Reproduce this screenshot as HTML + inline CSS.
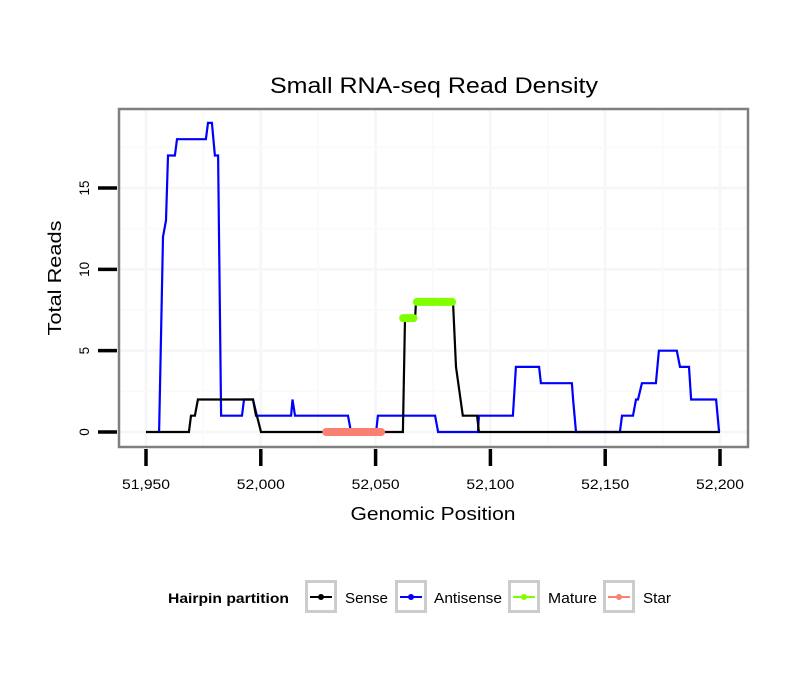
<!DOCTYPE html>
<html><head><meta charset="utf-8"><style>
body{margin:0;background:#fff;}
svg{display:block;font-family:"Liberation Sans",sans-serif;}
</style></head><body>
<svg id="chart" width="810" height="690">
<rect width="810" height="690" fill="#fff"/>
<text x="434" y="93" font-size="22" text-anchor="middle" textLength="328" lengthAdjust="spacingAndGlyphs">Small RNA-seq Read Density</text>
<g id="grid"></g>
<g id="series"></g>
<rect x="119" y="109" width="629" height="338" fill="none" stroke="#7f7f7f" stroke-width="2.5"/>
<g id="axes"></g>
<text x="433" y="520" font-size="18" text-anchor="middle" textLength="165" lengthAdjust="spacingAndGlyphs">Genomic Position</text>
<text transform="translate(61,278) rotate(-90)" font-size="18" text-anchor="middle" textLength="115" lengthAdjust="spacingAndGlyphs">Total Reads</text>
<g>
<text x="168" y="603" font-size="14" font-weight="bold" textLength="121" lengthAdjust="spacingAndGlyphs">Hairpin partition</text>
<g id="legend"></g>
</g>
</svg>
<script>
const xTicks=[51950,52000,52050,52100,52150,52200];
const xTickLabels=["51,950","52,000","52,050","52,100","52,150","52,200"];
const yTicks=[0,5,10,15];
const yTickLabels=["0","5","10","15"];
const senseX=[51950,51968.7,51969.6,51971.3,51972.6,51996.6,51997.9,51998.3,52000.1,52061.9,52062.8,52067.2,52067.6,52083.7,52085,52088,52094.2,52095,52200];
const senseY=[0,0,1,1,2,2,1,1,0,0,7,7,8,8,4,1,1,0,0];
const antiX=[51955.7,51957.4,51958.7,51959.6,51962.6,51963.5,51976.1,51977,51978.7,51980,51981.4,51982.7,51991.8,51992.7,51996.6,51998.3,52013.2,52013.8,52014.9,52038,52039.3,52050.2,52051,52075.9,52077.2,52094.6,52095,52109.8,52111.1,52121.2,52122,52135.5,52136,52137.3,52156.4,52157.3,52162.1,52163.4,52164.3,52166,52172.1,52173.4,52181.2,52182.6,52186.5,52187.4,52198.3,52199.6];
const antiY=[0,12,13,17,17,18,18,19,19,17,17,1,1,2,2,1,1,2,1,1,0,0,1,1,0,0,1,1,4,4,3,3,2,0,0,1,1,2,2,3,3,5,5,4,4,2,2,0];
const matureStart=[52062,52068];
const matureEnd=[52066.5,52083.3];
const matureY=[7,8];
const starStart=[52028.5];
const starEnd=[52052.4];
const starY=[0];
const legendLabels=["Sense","Antisense","Mature","Star"];
const legendColors=["#000000","#0000ff","#7fff00","#fa8072"];

const NS="http://www.w3.org/2000/svg";
const sx=v=>146+(v-51950)*(574/250);
const sy=v=>432-v*(244/15);
function mk(tag,attrs,parent){const e=document.createElementNS(NS,tag);for(const k in attrs)e.setAttribute(k,attrs[k]);parent.appendChild(e);return e;}
const grid=document.getElementById('grid'),axes=document.getElementById('axes'),series=document.getElementById('series'),legend=document.getElementById('legend');
for(let i=0;i<xTicks.length;i++){
 let g=mk('line',{x1:sx(xTicks[i]),x2:sx(xTicks[i]),y1:110,y2:446,stroke:'#f6f6f6','stroke-width':2.5},grid);
 
 
}
for(let i=0;i<yTicks.length;i++){
 let g=mk('line',{x1:120,x2:747,y1:sy(yTicks[i]),y2:sy(yTicks[i]),stroke:'#f6f6f6','stroke-width':2.5},grid);
 
 
 let m=mk('line',{x1:120,x2:747,y1:sy(yTicks[i]+2.5),y2:sy(yTicks[i]+2.5),stroke:'#fafafa','stroke-width':2},grid);
 
 
}
for(let i=0;i<xTicks.length-1;i++){
 let m=mk('line',{x1:sx(xTicks[i]+25),x2:sx(xTicks[i]+25),y1:110,y2:446,stroke:'#fafafa','stroke-width':2},grid);
 
 
}
for(let i=0;i<xTicks.length;i++){
 let t=mk('line',{x1:sx(xTicks[i]),x2:sx(xTicks[i]),y1:449,y2:466,stroke:'#000','stroke-width':3.5},axes);
 
 
 let l=mk('text',{x:sx(xTicks[i]),y:489,'font-size':13.5,'text-anchor':'middle',textLength:48,lengthAdjust:'spacingAndGlyphs'},axes);
 l.textContent=xTickLabels[i];
 
 
}
for(let i=0;i<yTicks.length;i++){
 let t=mk('line',{x1:98,x2:117,y1:sy(yTicks[i]),y2:sy(yTicks[i]),stroke:'#000','stroke-width':3.5},axes);
 
 
 let l=mk('text',{transform:`translate(89,${sy(yTicks[i])}) rotate(-90)`,'font-size':13.5,'text-anchor':'middle'},axes);
 l.textContent=yTickLabels[i];
 
 
}
const path=(xs,ys)=>xs.map((x,i)=>(i?'L':'M')+sx(x).toFixed(1)+','+sy(ys[i]).toFixed(1)).join('');
let pa=mk('path',{d:path(antiX,antiY),fill:'none',stroke:'#0000ff','stroke-width':2.2},series);


let ps=mk('path',{d:path(senseX,senseY),fill:'none',stroke:'#000','stroke-width':2.2},series);


for(let i=0;i<starStart.length;i++){
 let s=mk('line',{x1:sx(starStart[i]),x2:sx(starEnd[i]),y1:sy(starY[i]),y2:sy(starY[i]),stroke:'#fa8072','stroke-width':8,'stroke-linecap':'round'},series);
 
 
}
for(let i=0;i<matureStart.length;i++){
 let s=mk('line',{x1:sx(matureStart[i]),x2:sx(matureEnd[i]),y1:sy(matureY[i]),y2:sy(matureY[i]),stroke:'#7fff00','stroke-width':8,'stroke-linecap':'round'},series);
 
 
}
const boxX=[305,395,508,603],textX=[345,434,548,643],textW=[43,68,49,28];
for(let i=0;i<legendLabels.length;i++){
 let g=mk('g',{},legend);
 
 
 mk('rect',{x:boxX[i]+1.5,y:581.5,width:29,height:30,fill:'#fff',stroke:'#cccccc','stroke-width':3},g);
 mk('line',{x1:boxX[i]+5,x2:boxX[i]+27,y1:597,y2:597,stroke:legendColors[i],'stroke-width':2},g);
 mk('circle',{cx:boxX[i]+16,cy:597,r:3,fill:legendColors[i]},g);
 let t=mk('text',{x:textX[i],y:603,'font-size':14.5,textLength:textW[i],lengthAdjust:'spacingAndGlyphs'},g);
 t.textContent=legendLabels[i];
}
</script>
</body></html>
